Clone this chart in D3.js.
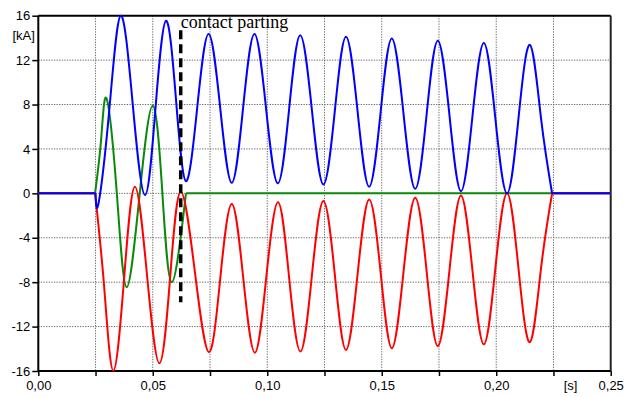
<!DOCTYPE html>
<html>
<head>
<meta charset="utf-8">
<script src="https://cdn.jsdelivr.net/npm/d3@7"></script>
<style>
  body { margin: 0; background: #fff; }
  svg { display: block; font-family: "Liberation Sans", Arial, sans-serif; }
</style>
</head>
<body>
<svg id="chart"></svg>
<script>
// time axis [s] and current axis [kA]
const xGridTicks = [0.025, 0.05, 0.075, 0.1, 0.125, 0.15, 0.175, 0.2, 0.225];
const xTicks = [0, 0.025, 0.05, 0.075, 0.1, 0.125, 0.15, 0.175, 0.2, 0.225, 0.25];
const yTicks = [-16, -12, -8, -4, 0, 4, 8, 12, 16];

// [t, i]; each phase is 0 before start and after end
const blueCurrent = [
  [0.0250, 0], [0.0264, -0.8], [0.0310, 7.5], [0.0360, 16.0], [0.0413, 7.9],
  [0.0466, -0.15], [0.0512, 7.7], [0.0558, 15.55], [0.0602, 8.3], [0.0645, 1.1],
  [0.0694, 7.7], [0.0744, 14.35], [0.0795, 7.6], [0.0845, 0.95], [0.0894, 7.6],
  [0.0944, 14.35], [0.0995, 7.6], [0.1046, 0.9], [0.1095, 7.5], [0.1144, 14.25],
  [0.1195, 7.5], [0.1245, 0.8], [0.1295, 7.4], [0.1344, 14.1], [0.1395, 7.3],
  [0.1445, 0.6], [0.1495, 7.3], [0.1544, 13.95], [0.1595, 7.2], [0.1646, 0.42],
  [0.1696, 7.1], [0.1745, 13.75], [0.1796, 7.0], [0.1846, 0.2], [0.1896, 6.9],
  [0.1946, 13.55], [0.1996, 6.8], [0.2047, 0.0], [0.2097, 6.7], [0.2147, 13.37],
  [0.2196, 6.7], [0.2244, 0]
];
const redCurrent = [
  [0.0248, 0], [0.0288, -8.5], [0.0328, -15.97], [0.0375, -7.6], [0.0422, 0.6],
  [0.0475, -7.4], [0.0529, -15.3], [0.0576, -7.5], [0.0622, 0.15], [0.0684, -7.1],
  [0.0745, -14.3], [0.0795, -7.6], [0.0845, -0.96], [0.0895, -7.6], [0.0946, -14.35],
  [0.0996, -7.5], [0.1047, -0.8], [0.1095, -7.5], [0.1145, -14.25], [0.1195, -7.4],
  [0.1245, -0.7], [0.1295, -7.3], [0.1344, -14.1], [0.1395, -7.2], [0.1445, -0.55],
  [0.1495, -7.1], [0.1544, -13.95], [0.1595, -7.1], [0.1646, -0.4], [0.1696, -7.0],
  [0.1745, -13.75], [0.1796, -6.9], [0.1846, -0.2], [0.1896, -6.9], [0.1946, -13.6],
  [0.1996, -6.8], [0.2047, 0.0], [0.2097, -6.7], [0.2147, -13.4], [0.2196, -6.7],
  [0.2244, 0]
];
const greenCurrent = [
  [0.0248, 0], [0.0275, 5.0], [0.0299, 8.5], [0.0343, 0], [0.0386, -8.45],
  [0.0443, 0], [0.0500, 7.9], [0.0542, 0], [0.0583, -8.0], [0.0645, 0]
];

// contact parting marker
const partingTime = 0.0622;
const partingRange = [14.7, -9.8];
const partingLabel = "contact parting";

const svgWidth = 625, svgHeight = 397;
const margin = { top: 15.7, right: 14.3, bottom: 26, left: 38.3 };
const width = svgWidth - margin.left - margin.right;
const height = svgHeight - margin.top - margin.bottom;

const svg = d3.select("#chart").attr("width", svgWidth).attr("height", svgHeight);
const g = svg.append("g").attr("transform", `translate(${margin.left},${margin.top})`);

const x = d3.scaleLinear().domain([0, 0.25]).range([0, width]);
const y = d3.scaleLinear().domain([-16, 16]).range([height, 0]);

// dotted grid
g.append("g")
  .selectAll("line.vgrid")
  .data(xGridTicks)
  .join("line")
  .attr("x1", d => x(d)).attr("x2", d => x(d))
  .attr("y1", 0).attr("y2", height)
  .style("stroke", "#6a6a6a").style("stroke-width", 1)
  .style("stroke-dasharray", "1.3 1.3");

g.append("g")
  .selectAll("line.hgrid")
  .data(yTicks.filter(d => d > -16 && d < 16))
  .join("line")
  .attr("x1", 0).attr("x2", width)
  .attr("y1", d => y(d)).attr("y2", d => y(d))
  .style("stroke", "#6a6a6a").style("stroke-width", 1)
  .style("stroke-dasharray", "1.3 1.3");

// top and right frame
g.append("line").attr("x1", 0).attr("x2", width).attr("y1", 0).attr("y2", 0)
  .style("stroke", "#000").style("stroke-width", 2);
g.append("line").attr("x1", width).attr("x2", width).attr("y1", 0).attr("y2", height)
  .style("stroke", "#222").style("stroke-width", 2);

// axes
const xAxis = d3.axisBottom(x)
  .tickValues(xTicks)
  .tickSize(5)
  .tickPadding(5)
  .tickFormat(d => (Math.round(d * 1000) % 50 === 0 ? d.toFixed(2).replace(".", ",") : ""));
const yAxis = d3.axisLeft(y)
  .tickValues(yTicks)
  .tickSize(6)
  .tickPadding(2)
  .tickFormat(d => String(d));

const gx = g.append("g").attr("transform", `translate(0,${height})`).call(xAxis);
const gy = g.append("g").call(yAxis);
[gx, gy].forEach(a => {
  a.select(".domain").style("stroke", "#000").style("stroke-width", 2);
  a.selectAll(".tick line").style("stroke", "#000").style("stroke-width", 1.5);
  a.selectAll("text").style("font-size", "13px").style("fill", "#000")
    .style("font-family", "'Liberation Sans', Arial, sans-serif");
});
gx.select(".domain").attr("d", `M0,0H${width}`);
gy.select(".domain").attr("d", `M0,${height}V0`);

// unit labels
g.append("text")
  .attr("x", x(0.2325)).attr("y", height + 19.5)
  .attr("text-anchor", "middle")
  .style("font-size", "13px")
  .text("[s]");
g.append("text")
  .attr("x", -14.6).attr("y", y(14.2))
  .attr("dy", "0.35em")
  .attr("text-anchor", "middle")
  .style("font-size", "13px")
  .text("[kA]");

// current traces
const wave = d3.line().x(d => x(d[0])).y(d => y(d[1])).curve(d3.curveNatural);
const flat = d3.line().x(d => x(d[0])).y(d => y(d[1]));

function drawPhase(data, color) {
  const t0 = data[0][0], t1 = data[data.length - 1][0];
  g.append("path").datum([[0, 0], [t0, 0]]).attr("d", flat)
    .style("fill", "none").style("stroke", color).style("stroke-width", 2);
  g.append("path").datum([[t1, 0], [0.25, 0]]).attr("d", flat)
    .style("fill", "none").style("stroke", color).style("stroke-width", 2);
  g.append("path").datum(data).attr("d", wave)
    .style("fill", "none").style("stroke", color).style("stroke-width", 2)
    .style("stroke-linejoin", "round");
}

drawPhase(greenCurrent, "#0a8a0a");
drawPhase(redCurrent, "#ff0000");
drawPhase(blueCurrent, "#0000ff");

// contact parting
g.append("line")
  .attr("x1", x(partingTime)).attr("x2", x(partingTime))
  .attr("y1", y(partingRange[0])).attr("y2", y(partingRange[1]))
  .style("stroke", "#000").style("stroke-width", 3.5)
  .style("stroke-dasharray", "9 5");
g.append("text")
  .attr("x", x(partingTime)).attr("y", 12.5)
  .style("font-family", "'Liberation Serif', 'Times New Roman', serif")
  .style("font-size", "18px")
  .text(partingLabel);
</script>
</body>
</html>
